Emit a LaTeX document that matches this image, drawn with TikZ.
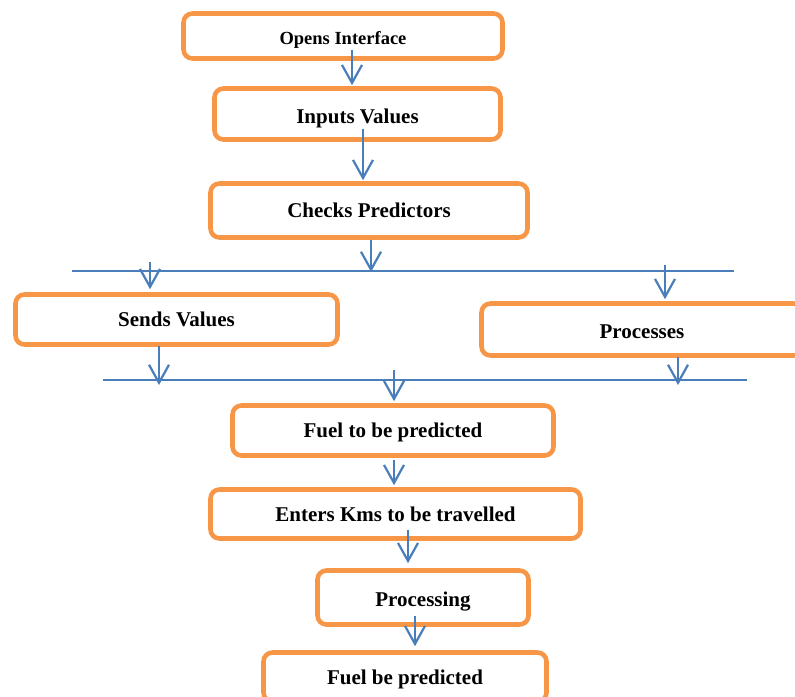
\documentclass[tikz,border=0pt]{standalone}
\usepackage{fontspec}
\setmainfont{Liberation Serif}
\usetikzlibrary{arrows.meta,calc}
\definecolor{boxorange}{HTML}{F79646}
\definecolor{lineblue}{HTML}{4A7EBB}
\tikzset{
  stepbox/.style={draw=boxorange, line width=4.6pt, rounded corners=9pt, fill=white,
    inner sep=0pt, font=\bfseries\fontsize{21}{24}\selectfont, text=black,
    text height=14pt, text depth=0pt},
  lowtext/.style={text height=18pt},
  arr/.style={draw=lineblue, line width=2pt,
    -{Straight Barb[length=18pt,width=20pt,line width=2.2pt]}},
  bus/.style={draw=lineblue, line width=2pt},
}
\begin{document}
\begin{tikzpicture}[x=1pt,y=-1pt]
\useasboundingbox (0,0) rectangle (795,696);
\clip (0,0) rectangle (795,696);
% boxes
\node[stepbox, minimum width=319pt, minimum height=45pt, font=\bfseries\fontsize{18.5}{22}\selectfont, text height=16.2pt] (n1) at (343,36) {Opens Interface};
\node[stepbox, lowtext, minimum width=286pt, minimum height=51pt] (n2) at (357.5,114) {Inputs Values};
\node[stepbox, minimum width=317pt, minimum height=54pt] (n3) at (369,210.5) {Checks Predictors};
\node[stepbox, minimum width=322pt, minimum height=50pt] (n4) at (176.5,319.5) {Sends Values};
\node[stepbox, lowtext, minimum width=321pt, minimum height=52pt] (n5) at (642,329.5) {Processes};
\node[stepbox, minimum width=321pt, minimum height=50pt] (n6) at (393,430.5) {Fuel to be predicted};
\node[stepbox, minimum width=370pt, minimum height=49pt] (n7) at (395.5,514) {Enters Kms to be travelled};
\node[stepbox, lowtext, minimum width=211pt, minimum height=54pt] (n8) at (423,597.5) {Processing};
\node[stepbox, minimum width=283pt, minimum height=49pt] (n9) at (405,677) {Fuel be predicted};
% bus lines
\coordinate (L1a) at (72,271);
\coordinate (L1b) at (734,271);
\coordinate (L2a) at (103,380);
\coordinate (L2b) at (747,380);
\draw[bus] (L1a) -- (L1b);
\draw[bus] (L2a) -- (L2b);
% arrow anchor coordinates on the bus lines
\coordinate (t3) at (371,272);
\coordinate (s4) at (150,262);
\coordinate (s5) at (665,265);
\coordinate (t6) at (159,385);
\coordinate (t7) at (678,385);
\coordinate (s8) at (394,370);
% arrows
\draw[arr] ([xshift=9pt,yshift=11pt]n1.south) -- ([xshift=9pt,yshift=1pt]n1.south |- n2.north);
\draw[arr] ([xshift=5.5pt,yshift=13pt]n2.south) -- ([xshift=5.5pt,yshift=1pt]n2.south |- n3.north);
\draw[arr] (n3.south -| t3) -- (t3);
\draw[arr] (s4) -- ([yshift=3pt]n4.north -| s4);
\draw[arr] (s5) -- ([yshift=2pt]n5.north -| s5);
\draw[arr] ([yshift=1pt]n4.south -| t6) -- (t6);
\draw[arr] ([yshift=1pt]n5.south -| t7) -- (t7);
\draw[arr] (s8) -- ([yshift=2pt]n6.north -| s8);
\draw[arr] ([xshift=1pt,yshift=-2pt]n6.south) -- ([xshift=1pt,yshift=2pt]n6.south |- n7.north);
\draw[arr] ([xshift=12.5pt,yshift=11pt]n7.south) -- ([xshift=12.5pt,yshift=5pt]n7.south |- n8.north);
\draw[arr] ([xshift=-8pt,yshift=11pt]n8.south) -- ([xshift=-8pt,yshift=4pt]n8.south |- n9.north);
\end{tikzpicture}
\end{document}
